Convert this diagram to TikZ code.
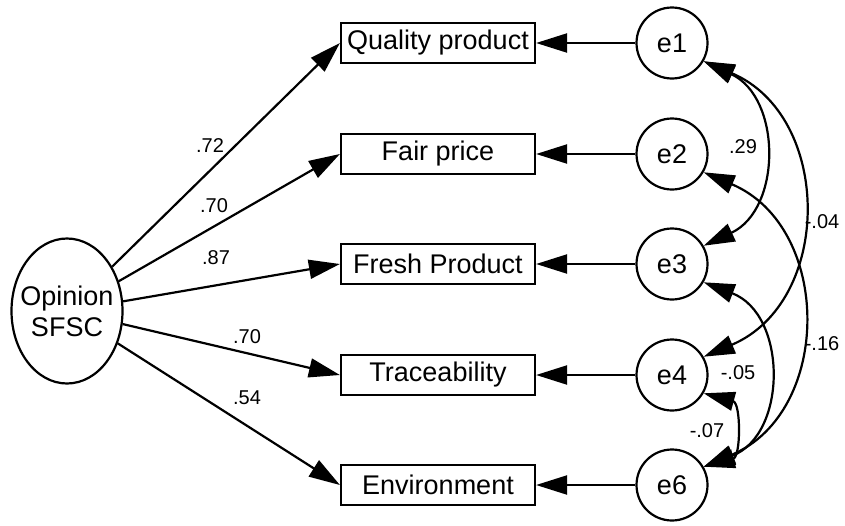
\documentclass[tikz,border=0pt]{standalone}
\usepackage{fontspec}
\setmainfont{Liberation Sans}
\usetikzlibrary{arrows.meta,shapes.geometric}
\begin{document}
\begin{tikzpicture}[x=1pt,y=1pt,line width=2.2pt,
    >={Triangle[length=31pt,width=19pt]},
    obs/.style={draw,rectangle,minimum width=194pt,minimum height=40pt,inner sep=0pt,
        font=\fontsize{27}{31}\selectfont},
    err/.style={draw,circle,minimum size=71pt,inner sep=0pt,
        font=\fontsize{27}{31}\selectfont},
    lat/.style={draw,ellipse,minimum width=111pt,minimum height=145pt,inner xsep=-9pt,
        inner ysep=0pt,align=center,font=\fontsize{27}{31}\selectfont},
    num/.style={inner sep=0pt,font=\fontsize{20}{22}\selectfont}]
    \useasboundingbox (0,0) rectangle (845,-525);
    \node[lat] (op) at (67,-311) {Opinion\\SFSC};
    % indicators and their errors
    \foreach \i/\txt/\y in {1/Quality product/43, 2/Fair price/154, 3/Fresh Product/264,
        4/Traceability/375, 6/Environment/485}{
        \node[obs] (v\i) at (438,-\y) {\txt};
        \node[err] (e\i) at (672,-\y) {e\i};
        \draw[->] (e\i) -- (v\i);
        \draw[->] (op) -- (v\i.west);
    }
    % loadings
    \foreach \i/\val/\lx/\ly in {1/.72/210/146, 2/.70/214/206, 3/.87/216/258,
        4/.70/247/337, 6/.54/247/398}{
        \node[num] (l\i) at (\lx,-\ly) {\val};
    }
    % error covariances
    \draw[<->] (e1.-30) to[out=-25,in=25,looseness=1.2] (e3.30);
    \draw[<->] (e1.-30) to[out=-23,in=23,looseness=1.22] (e4.30);
    \draw[<->] (e2.-30) to[out=-23,in=23,looseness=1.22] (e6.30);
    \draw[<->] (e3.-30) to[out=-21,in=21,looseness=1.25] (e6.30);
    \draw[<->] (e4.-30) to[out=-15,in=15,looseness=1.35] (e6.30);
    \node[num] (c13) at (743,-147) {.29};
    \node[num] (c14) at (822,-222) {-.04};
    \node[num] (c26) at (822,-344) {-.16};
    \node[num] (c36) at (738,-373) {-.05};
    \node[num] (c46) at (707,-431) {-.07};
\end{tikzpicture}
\end{document}
